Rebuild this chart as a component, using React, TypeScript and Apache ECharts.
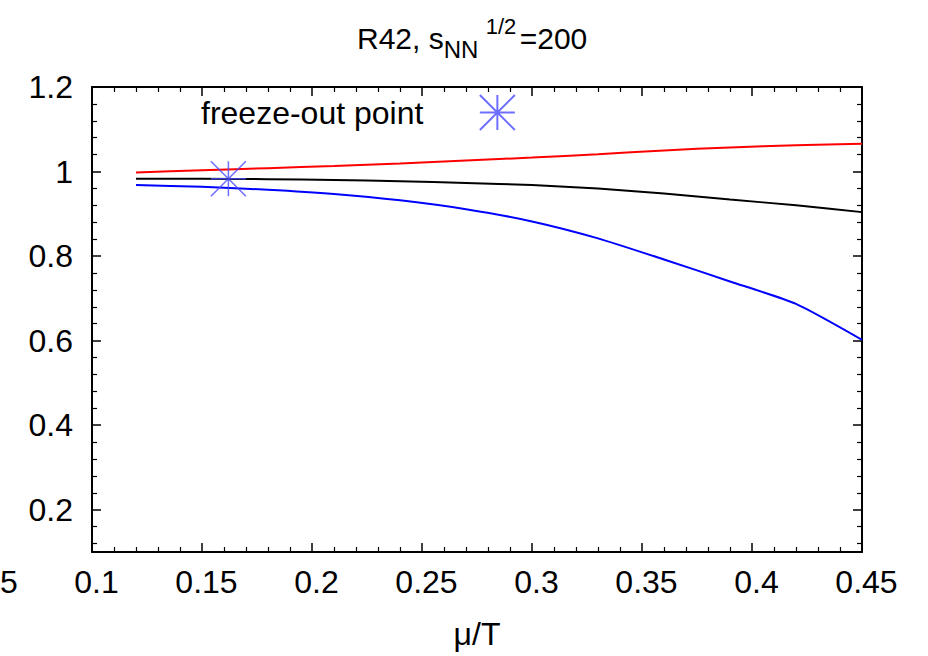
import React, { useEffect, useRef } from 'react';
import * as echarts from 'echarts';

// mu/T sample points and the three curves
const muOverT = [0.12, 0.15, 0.18, 0.21, 0.24, 0.27, 0.30, 0.33, 0.36, 0.39, 0.42, 0.45];
const redCurve = [0.998, 1.003, 1.008, 1.013, 1.019, 1.026, 1.033, 1.041, 1.050, 1.057, 1.062, 1.066];
const blackCurve = [0.983, 0.983, 0.982, 0.980, 0.977, 0.973, 0.968, 0.960, 0.948, 0.934, 0.920, 0.904];
const blueCurve = [0.968, 0.964, 0.957, 0.947, 0.932, 0.911, 0.882, 0.842, 0.792, 0.740, 0.687, 0.602];
const freezeOutX = [0.162];
const freezeOutY = [0.983];
const freezeOutName = 'freeze-out point';
const xAxisName = 'μ/T';
const croppedTickLabel = '5';

const FONT = '"Liberation Sans", Arial, Helvetica, sans-serif';
const ASTERISK = 'path://M10 0L10 20M0 10L20 10M0 0L20 20M0 20L20 0';

export default function App() {
  const ref = useRef<HTMLDivElement>(null);
  useEffect(() => {
    if (!ref.current) return;
    const chart = echarts.init(ref.current, undefined, { renderer: 'svg' });
    const pairs = (xs: number[], ys: number[]) => xs.map((x, i) => [x, ys[i]]);
    const axisLine = { show: true, lineStyle: { color: '#000', width: 2 } };
    const tick = { show: true, inside: true, length: 9, lineStyle: { color: '#000', width: 1.5 } };
    const minor = { show: true, splitNumber: 5, length: 5, lineStyle: { color: '#000', width: 1.2 } };
    const xBase = {
      type: 'value', min: 0.1, max: 0.45, interval: 0.05,
      axisLine, axisTick: tick, minorTick: minor,
      splitLine: { show: false }, minorSplitLine: { show: false },
    };
    const yBase = {
      type: 'value', min: 0.1, max: 1.2, minInterval: 0.2, maxInterval: 0.2,
      axisLine, axisTick: tick, minorTick: minor,
      splitLine: { show: false }, minorSplitLine: { show: false },
    };
    const main = { fontSize: 30, lineHeight: 46, verticalAlign: 'middle', fontFamily: FONT, fontWeight: 'normal', color: '#000' };
    const option: any = {
      animation: false,
      backgroundColor: '#fff',
      title: {
        text: '{a|R42, s}{b|NN}{c|1/2}{a|=200}',
        left: 357,
        top: 15,
        padding: 0,
        textStyle: {
          fontFamily: FONT,
          fontWeight: 'normal',
          rich: {
            a: main,
            b: { fontSize: 24, lineHeight: 22, verticalAlign: 'bottom', fontFamily: FONT, fontWeight: 'normal', color: '#000', width: 42 },
            c: { fontSize: 22, lineHeight: 33, verticalAlign: 'top', fontFamily: FONT, fontWeight: 'normal', color: '#000', width: 34 },
          },
        },
      },
      legend: {
        data: [{ name: freezeOutName, icon: ASTERISK }],
        left: 201,
        top: 94,
        padding: 0,
        align: 'right',
        itemWidth: 138,
        itemHeight: 35,
        selectedMode: false,
        textStyle: { fontSize: 32, fontFamily: FONT, color: '#000' },
      },
      grid: { left: 92, right: 66, top: 87, bottom: 104 },
      xAxis: [
        {
          ...xBase,
          position: 'bottom',
          name: xAxisName,
          nameLocation: 'middle',
          nameGap: 66,
          nameTextStyle: { fontSize: 32, fontFamily: FONT, color: '#000' },
          axisLabel: {
            margin: 14, fontSize: 32, fontFamily: FONT, color: '#000', padding: [0, 0, 0, 9],
            formatter: (v: number) => String(+v.toFixed(2)),
          },
        },
        { ...xBase, position: 'top', axisLabel: { show: false } },
      ],
      yAxis: [
        {
          ...yBase,
          position: 'left',
          axisLabel: {
            margin: 19, fontSize: 32, fontFamily: FONT, color: '#000',
            formatter: (v: number) => (v < 0.15 ? '' : String(+v.toFixed(1))),
          },
        },
        { ...yBase, position: 'right', axisLabel: { show: false } },
      ],
      series: [
        {
          name: 'red curve', type: 'line', data: pairs(muOverT, redCurve), showSymbol: false, smooth: 0.2,
          lineStyle: { color: '#ff0000', width: 2 }, itemStyle: { color: '#ff0000' },
        },
        {
          name: 'black curve', type: 'line', data: pairs(muOverT, blackCurve), showSymbol: false, smooth: 0.2,
          lineStyle: { color: '#000000', width: 2 }, itemStyle: { color: '#000000' },
        },
        {
          name: 'blue curve', type: 'line', data: pairs(muOverT, blueCurve), showSymbol: false, smooth: 0.2,
          lineStyle: { color: '#0000ff', width: 2 }, itemStyle: { color: '#0000ff' },
        },
        {
          name: freezeOutName, type: 'scatter', data: pairs(freezeOutX, freezeOutY),
          symbol: ASTERISK, symbolSize: 35, z: 5,
          itemStyle: { color: '#4a4aff', borderColor: '#4a4aff', borderWidth: 1.5 },
        },
      ],
      graphic: [
        {
          type: 'text', x: 0, y: 566,
          style: { text: croppedTickLabel, fontSize: 32, fontFamily: FONT, fill: '#000', align: 'left', verticalAlign: 'top' },
        },
      ],
    };
    chart.setOption(option);
    return () => chart.dispose();
  }, []);
  return <div ref={ref} style={{ position: 'absolute', left: 0, top: 0, width: 928, height: 656 }} />;
}
